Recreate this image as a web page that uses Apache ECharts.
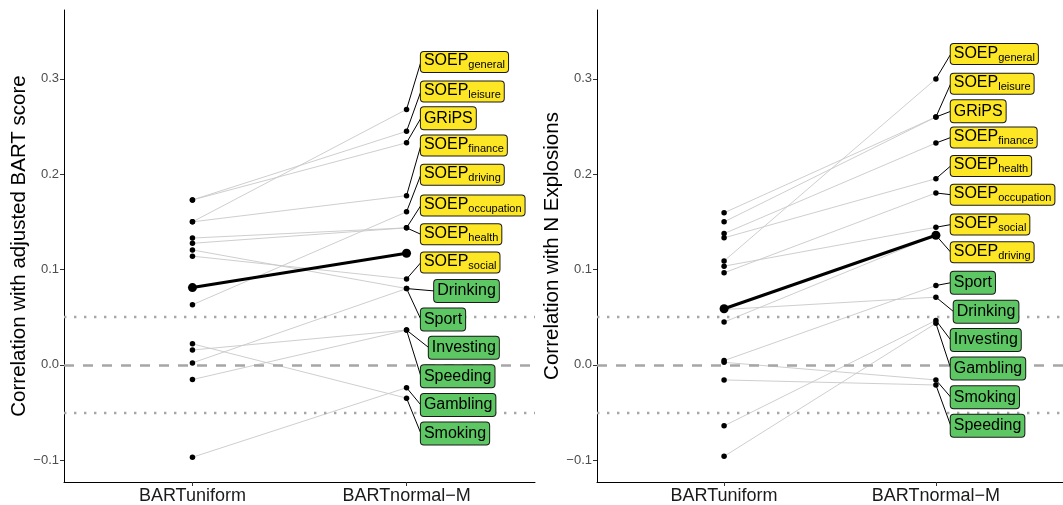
<!DOCTYPE html>
<html><head><meta charset="utf-8">
<script src="https://cdn.jsdelivr.net/npm/echarts@6/dist/echarts.min.js"></script>
<style>html,body{margin:0;padding:0;background:#fff}#c{width:1063px;height:505px}</style>
</head><body><div id="c"></div>
<script>
// ---------- data ----------
const xCategories = ['BARTuniform', 'BARTnormal\u2212M'];
const yTicks = [-0.1, 0.0, 0.1, 0.2, 0.3];
const zeroLine = [0];
const bandLines = [-0.05, 0.05];

// left panel: correlation with adjusted BART score
const leftItems   = ['SOEP_general','SOEP_leisure','GRiPS','SOEP_finance','SOEP_driving','SOEP_occupation','SOEP_health','SOEP_social','Drinking','Sport','Investing','Speeding','Gambling','Smoking'];
const leftUniform = [0.150, 0.173, 0.173, 0.150, 0.063, 0.133, 0.1275, 0.114, 0.1205, 0.002, 0.0155, -0.0155, -0.097, 0.022];
const leftNormal  = [0.268, 0.245, 0.233, 0.1775, 0.1605, 0.1437, 0.1437, 0.090, 0.080, 0.080, 0.0364, 0.0364, -0.024, -0.035];
const leftMean    = [0.081, 0.117];

// right panel: correlation with N explosions
const rightItems   = ['SOEP_general','SOEP_leisure','GRiPS','SOEP_finance','SOEP_health','SOEP_occupation','SOEP_social','SOEP_driving','Sport','Drinking','Investing','Gambling','Smoking','Speeding'];
const rightUniform = [0.109, 0.1595, 0.150, 0.1377, 0.1332, 0.0965, 0.1035, 0.0448, 0.0044, 0.058, -0.0641, -0.0961, 0.0026, -0.0159];
const rightNormal  = [0.300, 0.260, 0.260, 0.2327, 0.1953, 0.1803, 0.1443, 0.1359, 0.0832, 0.0710, 0.0466, 0.0435, -0.0159, -0.0212];
const rightMean    = [0.0588, 0.1359];

// ---------- layout (repelled label anchors, in axis units) ----------
const leftLabelX  = [2.067,2.067,2.067,2.067,2.067,2.067,2.067,2.067,2.129,2.067,2.104,2.067,2.067,2.067];
const leftLabelY  = [0.3178,0.2869,0.2588,0.2302,0.1995,0.1672,0.1369,0.1073,0.0775,0.0476,0.0180,-0.0120,-0.0422,-0.0720];
const rightLabelX = [2.070,2.070,2.070,2.070,2.070,2.070,2.070,2.070,2.070,2.084,2.070,2.070,2.070,2.070];
const rightLabelY = [0.3260,0.2950,0.2660,0.2385,0.2087,0.1785,0.1471,0.1181,0.0861,0.0557,0.0260,-0.0039,-0.0340,-0.0639];

const FONT = 'Liberation Sans, Arial, Helvetica, sans-serif';
const YELLOW = '#FDE725', GREEN = '#5DC863';

function richText(name) {
  const i = name.indexOf('_');
  if (i < 0) return '{p|' + name + '}';
  return '{m|' + name.slice(0, i) + '}{s|' + name.slice(i + 1) + '}';
}
function labelColor(name) {
  return (name.indexOf('SOEP') === 0 || name === 'GRiPS') ? YELLOW : GREEN;
}

const series = [];
function panel(g, items, uni, nor, mean, lx, ly) {
  const ax = { xAxisIndex: g, yAxisIndex: g };
  // reference lines
  series.push(Object.assign({
    type: 'line', data: [], symbol: 'none', silent: true, z: 1,
    markLine: {
      silent: true, symbol: 'none', label: { show: false }, animation: false,
      lineStyle: { color: '#a6a6a6', width: 2.4 },
      data: zeroLine.map(v => ({ yAxis: v, lineStyle: { type: [10, 9], color: '#a6a6a6', width: 2.6 } }))
        .concat(bandLines.map(v => ({ yAxis: v, lineStyle: { type: [2.4, 7.6], color: '#a6a6a6', width: 2.4 } })))
    }
  }, ax));
  // grey connecting lines
  items.forEach((it, i) => {
    series.push(Object.assign({
      type: 'line', data: [[1, uni[i]], [2, nor[i]]], symbol: 'none', silent: true, z: 2,
      lineStyle: { color: '#c8c8c8', width: 0.9 }
    }, ax));
  });
  // label segments
  items.forEach((it, i) => {
    series.push(Object.assign({
      type: 'line', data: [[2, nor[i]], [lx[i], ly[i]]], symbol: 'none', silent: true, z: 3,
      lineStyle: { color: '#000', width: 1 }
    }, ax));
  });
  // mean line
  series.push(Object.assign({
    type: 'line', data: [[1, mean[0]], [2, mean[1]]], symbol: 'circle', symbolSize: 9, z: 4,
    itemStyle: { color: '#000', opacity: 1 }, lineStyle: { color: '#000', width: 3 }
  }, ax));
  // points
  const pts = [];
  items.forEach((it, i) => { pts.push([1, uni[i]]); pts.push([2, nor[i]]); });
  series.push(Object.assign({
    type: 'scatter', data: pts, symbolSize: 5.5, z: 5, itemStyle: { color: '#000', opacity: 1 }
  }, ax));
  // labels
  series.push(Object.assign({
    type: 'scatter', symbolSize: 0, z: 6, silent: true,
    itemStyle: { opacity: 1 },
    data: items.map((it, i) => ({
      value: [lx[i], ly[i]],
      label: { formatter: richText(it), backgroundColor: labelColor(it) }
    })),
    label: {
      show: true, position: 'right', distance: 0, color: '#000', fontFamily: FONT,
      borderColor: '#1a1a1a', borderWidth: 1, borderRadius: 3, padding: [1, 3, 1, 3],
      rich: {
        p: { fontSize: 16, lineHeight: 20, fontFamily: FONT, color: '#000' },
        m: { fontSize: 16, lineHeight: 18, padding: [0, 0, 2, 0], verticalAlign: 'bottom', fontFamily: FONT, color: '#000' },
        s: { fontSize: 11, lineHeight: 12, verticalAlign: 'bottom', fontFamily: FONT, color: '#000' }
      }
    }
  }, ax));
}
panel(0, leftItems, leftUniform, leftNormal, leftMean, leftLabelX, leftLabelY);
panel(1, rightItems, rightUniform, rightNormal, rightMean, rightLabelX, rightLabelY);

function xAxis(g) {
  return {
    gridIndex: g, type: 'value', min: 0.4, max: 2.6,
    axisLine: { show: true, onZero: false, lineStyle: { color: '#000', width: 1 } },
    axisTick: { show: true, customValues: [1, 2], length: 4, lineStyle: { color: '#333' } },
    axisLabel: { customValues: [1, 2], formatter: v => xCategories[Math.round(v) - 1], fontSize: 18, color: '#1a1a1a', fontFamily: FONT, margin: 5 },
    splitLine: { show: false }
  };
}
function yAxis(g, name) {
  return {
    gridIndex: g, type: 'value', min: -0.123, max: 0.3723,
    name: name, nameLocation: 'middle', nameGap: 32, nameRotate: 90,
    nameTextStyle: { fontSize: 20.5, color: '#000', fontFamily: FONT },
    axisLine: { show: true, onZero: false, lineStyle: { color: '#000', width: 1 } },
    axisTick: { show: true, customValues: yTicks, length: 4, lineStyle: { color: '#333' } },
    axisLabel: { customValues: yTicks, formatter: v => (v < 0 ? '\u2212' : '') + Math.abs(v).toFixed(1), fontSize: 13, color: '#4d4d4d', fontFamily: FONT, margin: 5 },
    splitLine: { show: false }
  };
}

const chart = echarts.init(document.getElementById('c'), null, { renderer: 'canvas' });
chart.setOption({
  animation: false,
  backgroundColor: '#fff',
  grid: [
    { left: 64, top: 10, width: 471, height: 473 },
    { left: 597, top: 10, width: 470, height: 473 }
  ],
  xAxis: [xAxis(0), xAxis(1)],
  yAxis: [yAxis(0, 'Correlation with adjusted BART score'), yAxis(1, 'Correlation with N Explosions')],
  series: series
});
</script>
</body></html>
